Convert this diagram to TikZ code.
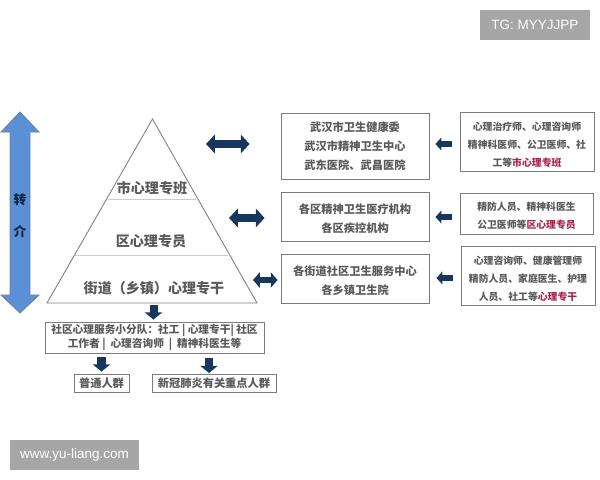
\documentclass[tikz,border=0pt]{standalone}
\usepackage{fontspec}
\setmainfont{Noto Sans CJK SC}
\newfontfamily\wmfont{Liberation Sans}
\usepackage{xcolor}
\usetikzlibrary{arrows.meta}
\definecolor{navy}{HTML}{17375E}
\definecolor{tinta}{HTML}{5A5A5A}
\definecolor{rojo}{HTML}{A8234A}
\definecolor{borde}{HTML}{7C7C7C}
\definecolor{azul}{HTML}{5B8FD6}
\definecolor{marca}{HTML}{A6A6A6}
\newcommand{\bajar}[1]{\rule{0pt}{#1}}
\begin{document}
\begin{tikzpicture}[x=0.025cm,y=-0.025cm,text=tinta]
	\tikzset{bloque/.style={draw=borde, rectangle, fill=white, line width=0.6pt, inner sep=0pt, align=center},
		grande/.style={font=\fontsize{8}{13.6}\selectfont\bfseries},
		chico/.style={font=\fontsize{7}{12.7}\selectfont\bfseries},
		nivel/.style={font=\fontsize{10}{12}\selectfont\bfseries},
		marcabox/.style={fill=marca, text=white, inner sep=0pt, font=\wmfont\fontsize{9.6}{10}\selectfont},
		dobleflecha/.style={navy, line width=0.18cm, {Triangle[length=0.22cm,width=0.46cm]}-{Triangle[length=0.22cm,width=0.46cm]}},
		dobleflechita/.style={navy, line width=0.14cm, {Triangle[length=0.17cm,width=0.38cm]}-{Triangle[length=0.17cm,width=0.38cm]}},
		izqflecha/.style={navy, line width=0.16cm, -{Triangle[length=0.15cm,width=0.32cm]}},
		bajaflecha/.style={navy, line width=0.2cm, -{Triangle[length=0.18cm,width=0.43cm]}}}
	\useasboundingbox (0,0) rectangle (600,480);
	% piramide
	\coordinate (apex) at (152.5,119);
	\coordinate (baseL) at (47,303);
	\coordinate (baseR) at (257,303);
	\draw[borde,line width=0.6pt] (apex) -- (baseR) -- (baseL) -- cycle;
	\draw[borde!40,line width=0.5pt] (108,199) -- (196,199);
	\draw[borde!40,line width=0.5pt] (75,255) -- (228,255);
	\node[nivel] at (152,188) (shi){市心理专班};
	\node[nivel] at (151,241) (qu){区心理专员};
	\node[nivel] at (154,288) (jie){街道（乡镇）心理专干};
	% transferencia
	\draw[draw=borde!70!azul,fill=azul,line width=0.6pt] (20,112) -- (39,132) -- (30,132) -- (30,295) -- (39,295) -- (20,313) -- (1,295) -- (10,295) -- (10,132) -- (1,132) -- cycle;
	\node[font=\fontsize{9}{10}\selectfont\bfseries, text=navy!70!black] at (20,200) (zhuanA){转};
	\node[font=\fontsize{9}{10}\selectfont\bfseries, text=navy!70!black] at (20,232) (zhuanB){介};
	% instituciones
	\node[bloque,grande,minimum width=3.7cm,minimum height=1.65cm] at (355,146) (wuhan){武汉市卫生健康委\\武汉市精神卫生中心\\武东医院、武昌医院};
	\node[bloque,grande,minimum width=3.7cm,minimum height=1.225cm] at (355,216.5) (gequ){\bajar{10pt}各区精神卫生医疗机构\\各区疾控机构};
	\node[bloque,grande,minimum width=3.7cm,minimum height=1.225cm] at (355,278.5) (gejie){\bajar{10pt}各街道社区卫生服务中心\\各乡镇卫生院};
	% personal
	\node[bloque,chico,minimum width=3.35cm,minimum height=1.475cm] at (527,141.5) (rshi){\bajar{10.5pt}心理治疗师、心理咨询师\\精神科医师、公卫医师、社\\工等\textcolor{rojo}{市心理专班}};
	\node[bloque,chico,minimum width=3.325cm,minimum height=1.025cm] at (526.5,213.5) (rqu){\bajar{9pt}精防人员、精神科医生\\公卫医师等\textcolor{rojo}{区心理专员}};
	\node[bloque,chico,minimum width=3.35cm,minimum height=1.475cm] at (528,275.5) (rjie){\bajar{10.5pt}心理咨询师、健康管理师\\精防人员、家庭医生、护理\\人员、社工等\textcolor{rojo}{心理专干}};
	% abajo
	\node[bloque,font=\fontsize{7.6}{9.6}\selectfont\bfseries,minimum width=5.475cm,minimum height=0.775cm] at (154.5,337.5) (equipo){社区心理服务小分队：社工 | 心理专干| 社区\\工作者 |\ \ 心理咨询师\ \ |\ \ 精神科医生等};
	\node[bloque,grande,minimum width=1.375cm,minimum height=0.45cm] at (101.5,383) (putong){普通人群};
	\node[bloque,grande,minimum width=3.1cm,minimum height=0.45cm] at (214,383) (xinguan){新冠肺炎有关重点人群};
	% flechas
	\coordinate (shiL) at (206,144);
	\coordinate (quL) at (229,218);
	\coordinate (jieL) at (253,280);
	\coordinate (baseM) at (153.5,303);
	\coordinate (xinguanT) at (209,374);
	\draw[dobleflecha,shorten >=31*0.025cm] (shiL) -- (wuhan.west |- shiL);
	\draw[dobleflecha,shorten >=16*0.025cm] (quL) -- (gequ.west |- quL);
	\draw[dobleflechita,shorten >=3*0.025cm] (jieL) -- (gejie.west |- jieL);
	\draw[izqflecha,shorten <=8*0.025cm,shorten >=6*0.025cm] (rshi.west |- shiL) -- (wuhan.east |- shiL);
	\draw[izqflecha,shorten <=8*0.025cm,shorten >=6*0.025cm] (rqu.west |- 0,217) -- (gequ.east |- 0,217);
	\draw[izqflecha,shorten <=8*0.025cm,shorten >=7*0.025cm] (rjie.west |- 0,278) -- (gejie.east |- 0,278);
	\draw[bajaflecha,shorten <=2*0.025cm,shorten >=2*0.025cm] (baseM) -- (baseM |- equipo.north);
	\draw[bajaflecha,shorten <=4*0.025cm,shorten >=2*0.025cm] (putong.north |- equipo.south) -- (putong.north);
	\draw[bajaflecha,shorten <=5*0.025cm,shorten >=1*0.025cm] (xinguanT |- equipo.south) -- (xinguanT);
	% marcas
	\node[marcabox,minimum width=2.75cm,minimum height=0.75cm] at (535,25) (tg){TG: MYYJJPP};
	\node[marcabox,minimum width=3.225cm,minimum height=0.75cm] at (74.5,455) (web){www.yu-liang.com};
\end{tikzpicture}
\end{document}
